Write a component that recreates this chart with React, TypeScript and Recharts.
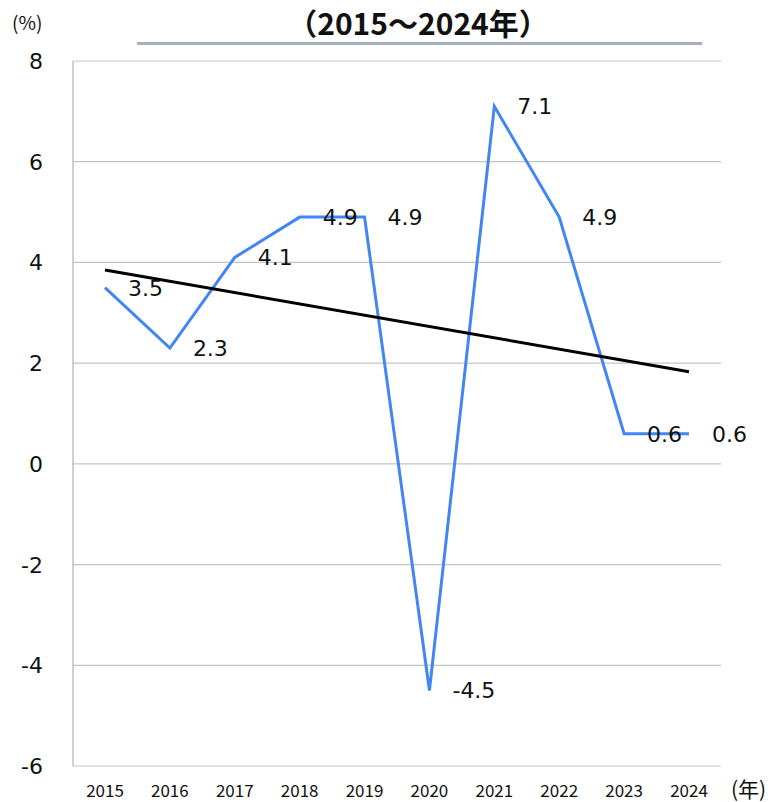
import React from 'react';
import { LineChart, Line, XAxis, YAxis, CartesianGrid, LabelList } from 'recharts';

const years = ['2015', '2016', '2017', '2018', '2019', '2020', '2021', '2022', '2023', '2024'];
const growth = [3.5, 2.3, 4.1, 4.9, 4.9, -4.5, 7.1, 4.9, 0.6, 0.6];
const trendEnds = [3.85, null, null, null, null, null, null, null, null, 1.83];
const yTicks = [-6, -4, -2, 0, 2, 4, 6, 8];

const data = years.map((y, i) => ({ year: y, growth: growth[i], trend: trendEnds[i] }));

const labelFont = '"DejaVu Sans", Verdana, sans-serif';
const cjkFont = '"Noto Sans CJK JP", "Noto Sans", sans-serif';

const YTick = (props: any) => {
  const { y, payload } = props;
  return (
    <text x={43} y={y} dy={8} textAnchor="end" fontSize={22} fontFamily={labelFont} fill="#111">
      {payload.value}
    </text>
  );
};

const XTick = (props: any) => {
  const { x, payload } = props;
  return (
    <text x={x} y={797} textAnchor="middle" fontSize={17} fontFamily={cjkFont} fill="#111">
      {payload.value}
    </text>
  );
};

const ValueLabel = (props: any) => {
  const { x, y, value } = props;
  return (
    <text x={x + 23} y={y} dy={8} textAnchor="start" fontSize={22} fontFamily={labelFont} fill="#111">
      {Number(value).toFixed(1)}
    </text>
  );
};

export default function App() {
  return (
    <div style={{ position: 'absolute', left: 0, top: 0, width: 772, height: 802, background: '#fff' }}>
      <LineChart width={772} height={802} data={data} margin={{ top: 61, right: 51, bottom: 0, left: 0 }}>
        <CartesianGrid vertical={false} stroke="#c4c4c4" strokeWidth={1.2} />
        <XAxis
          dataKey="year"
          height={36}
          padding={{ left: 32, right: 32 }}
          axisLine={false}
          tickLine={false}
          tick={<XTick />}
          interval={0}
        />
        <YAxis
          width={73}
          domain={[-6, 8]}
          ticks={yTicks}
          interval={0}
          axisLine={{ stroke: '#a0a0a0' }}
          tickLine={false}
          tick={<YTick />}
        />
        <Line
          dataKey="growth"
          stroke="#4286f4"
          strokeWidth={3}
          dot={false}
          isAnimationActive={false}
        >
          <LabelList dataKey="growth" content={<ValueLabel />} />
        </Line>
        <Line
          dataKey="trend"
          stroke="#000"
          strokeWidth={3}
          dot={false}
          connectNulls
          isAnimationActive={false}
        />
      </LineChart>
      <div
        style={{
          position: 'absolute', left: 418, top: 0, transform: 'translateX(-50%)', whiteSpace: 'nowrap', zIndex: 2,
          fontFamily: cjkFont, fontWeight: 'bold', fontSize: 30, lineHeight: 'normal', color: '#111',
        }}
      >
        （2015～2024年）
      </div>
      <div style={{ position: 'absolute', left: 137, top: 42, width: 565, height: 3, background: '#a6b0c1', zIndex: 3 }} />
      <div style={{ position: 'absolute', left: 12, top: 8, fontFamily: cjkFont, fontSize: 19, color: '#111', zIndex: 2 }}>
        (%)
      </div>
      <div style={{ position: 'absolute', left: 731, top: 774, fontFamily: cjkFont, fontSize: 21, lineHeight: '28px', color: '#111', zIndex: 2, whiteSpace: 'nowrap' }}>
        (年)
      </div>
    </div>
  );
}
